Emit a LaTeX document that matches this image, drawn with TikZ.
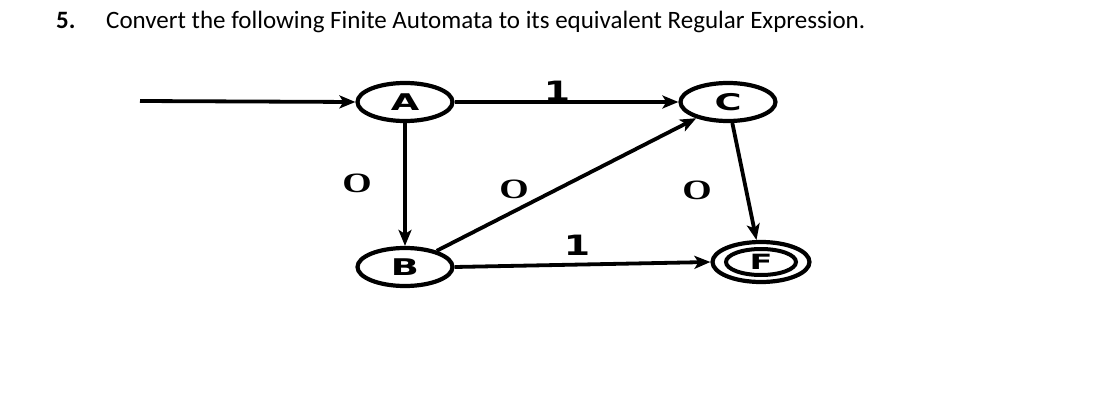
\documentclass[tikz,border=0pt]{standalone}
\usepackage{fontspec}
\setmainfont{Carlito}
\newfontfamily\lblfont{DejaVu Sans}
\newfontfamily\ofont{Liberation Serif}
\usetikzlibrary{shapes.geometric,arrows.meta}
\begin{document}
\begin{tikzpicture}[x=1pt,y=-1pt,
  state/.style={ellipse,draw,line width=4.2pt,minimum width=95pt,minimum height=38pt,inner sep=0pt},
  edge/.style={line width=3.8pt,-{Stealth[length=16pt,width=13pt,inset=4pt]}},
  lbl/.style={inner sep=0pt,font=\fontsize{28}{28}\selectfont},
  title/.style={inner sep=0pt,anchor=base west,font=\fontsize{25}{28}\selectfont}]
\useasboundingbox (0,0) rectangle (1093,412);
\node[title,font=\fontsize{25}{28}\selectfont\bfseries] (num) at (56,29) {5.};
\node[title] (ttl) at (106,29) {Convert the following Finite Automata to its equivalent Regular Expression.};
\node[state] (A) at (405,102) {\scalebox{1.6}[1]{\lblfont\bfseries\fontsize{23}{23}\selectfont A}};
\node[state] (C) at (728,102) {\scalebox{1.6}[1]{\lblfont\bfseries\fontsize{23}{23}\selectfont C}};
\node[state] (B) at (405,267) {\scalebox{1.6}[1]{\lblfont\bfseries\fontsize{23}{23}\selectfont B}};
\node[state,minimum width=97pt,minimum height=40pt] (F) at (761,262) {};
\node[ellipse,draw,line width=4pt,minimum width=70pt,minimum height=26pt,inner sep=0pt] (Fi) at (F.center) {\scalebox{1.6}[1]{\lblfont\bfseries\fontsize{21}{21}\selectfont F}};
\coordinate (start) at (140,101);
\draw[edge] (start) -- (A.west);
\draw[edge] (A) -- (C);
\draw[edge] (A) -- (B);
\draw[edge] (B) -- (C);
\draw[edge] (C) -- (F);
\draw[edge] (B.east) -- (F.west);
\node[lbl] (l1) at (557,91) {\scalebox{1.35}[1]{\lblfont\bfseries 1}};
\node[lbl] (l2) at (357,183) {\scalebox{1.35}[1]{\ofont\bfseries O}};
\node[lbl] (l3) at (514,189) {\scalebox{1.35}[1]{\ofont\bfseries O}};
\node[lbl] (l4) at (697,190) {\scalebox{1.35}[1]{\ofont\bfseries O}};
\node[lbl] (l5) at (577,245) {\scalebox{1.35}[1]{\lblfont\bfseries 1}};
\end{tikzpicture}
\end{document}
